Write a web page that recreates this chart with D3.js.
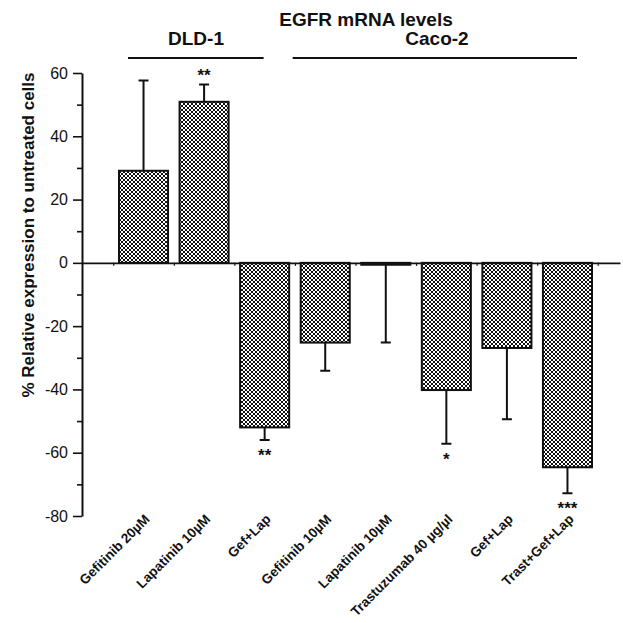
<!DOCTYPE html>
<html>
<head>
<meta charset="utf-8">
<script src="https://cdn.jsdelivr.net/npm/d3@7"></script>
<style>
  body { margin: 0; background: #fff; }
  text { font-family: "Liberation Sans", Arial, sans-serif; fill: #111; }
</style>
</head>
<body>
<svg id="chart" width="623" height="623"></svg>
<script>
// values
const categories = ['Gefitinib 20\u00b5M', 'Lapatinib 10\u00b5M', 'Gef+Lap', 'Gefitinib 10\u00b5M',
  'Lapatinib 10\u00b5M', 'Trastuzumab 40 \u00b5g/\u00b5l', 'Gef+Lap', 'Trast+Gef+Lap']
const values = [29.1, 50.9, -52.0, -25.2, -0.6, -40.2, -26.9, -64.6]
const errors = [28.5, 5.5, 4.0, 8.9, 24.6, 17.0, 22.5, 8.2]
const stars = ['', '**', '**', '', '', '*', '', '***']
const yTicks = [60, 40, 20, 0, -20, -40, -60, -80]
const groups = [
  {name: 'DLD-1', from: 0, to: 1},
  {name: 'Caco-2', from: 3, to: 7}
]

const svg = d3.select('#chart')

// pattern for the bar fill (fine crosshatch)
const defs = svg.append('defs')
const pat = defs.append('pattern').attr('id', 'hatch')
  .attr('patternUnits', 'userSpaceOnUse').attr('width', 4).attr('height', 4)
pat.append('rect').attr('width', 4).attr('height', 4).attr('fill', '#fff')
pat.append('path').attr('d', 'M-1,1 l2,-2 M0,4 l4,-4 M3,5 l2,-2')
  .attr('stroke', '#111').attr('stroke-width', 1)
pat.append('path').attr('d', 'M-1,3 l2,2 M0,0 l4,4 M3,-1 l2,2')
  .attr('stroke', '#111').attr('stroke-width', 1)

const x = d3.scaleBand().domain(d3.range(categories.length)).range([119, 592]).paddingInner(0.19)
const y = d3.scaleLinear().domain([-80, 60]).range([516, 73])

// y axis, major + minor ticks
svg.append('g').attr('transform', 'translate(82,0)')
  .call(d3.axisLeft(y).tickValues(d3.range(-70, 60, 20)).tickSize(5).tickFormat(''))
  .call(g => g.select('.domain').remove())
  .call(g => g.selectAll('line').attr('stroke', '#111').attr('stroke-width', 1.6))
svg.append('g').attr('transform', 'translate(82,0)')
  .call(d3.axisLeft(y).tickValues(yTicks).tickSize(9).tickSizeOuter(0).tickPadding(5)
    .tickFormat(d => String(d)))
  .call(g => g.select('.domain').attr('stroke', '#111').attr('stroke-width', 2))
  .call(g => g.selectAll('line').attr('stroke', '#111').attr('stroke-width', 1.6))
  .call(g => g.selectAll('text').attr('font-size', 16).attr('fill', '#111')
    .style('font-family', '"Liberation Sans", Arial, sans-serif'))

// bars
svg.selectAll('.bar').data(values).enter().append('rect').attr('class', 'bar')
  .attr('x', (d, i) => x(i))
  .attr('width', x.bandwidth())
  .attr('y', d => y(Math.max(0, d)))
  .attr('height', d => Math.abs(y(d) - y(0)))
  .attr('fill', 'url(#hatch)')
  .attr('stroke', '#111').attr('stroke-width', 2)

// zero line with small ticks
svg.append('g').attr('transform', `translate(0,${y(0)})`)
  .call(d3.axisBottom(d3.scaleLinear().domain([0, 1]).range([82, 620]))
    .tickValues(d3.range(categories.length + 1).map(i => (x(0) - x.step() * 0.095 + x.step() * i - 82) / 538))
    .tickSize(3).tickSizeOuter(0).tickFormat(''))
  .call(g => g.select('.domain').attr('stroke', '#111').attr('stroke-width', 1.6))
  .call(g => g.selectAll('line').attr('stroke', '#111').attr('stroke-width', 1.2))

// error bars (one sided, away from zero)
const cx = i => x(i) + x.bandwidth() / 2
const errEnd = (d, i) => d + Math.sign(d || -1) * errors[i]
svg.selectAll('.err').data(values).enter().append('path').attr('class', 'err')
  .attr('d', (d, i) => `M${cx(i)},${y(d)}V${y(errEnd(d, i))}M${cx(i) - 5},${y(errEnd(d, i))}h10`)
  .attr('stroke', '#111').attr('stroke-width', 2).attr('fill', 'none')

// significance stars
svg.selectAll('.star').data(values).enter().append('text').attr('class', 'star')
  .attr('x', (d, i) => cx(i))
  .attr('y', (d, i) => y(errEnd(d, i)) + (d > 0 ? -3 : 21))
  .attr('text-anchor', 'middle').attr('font-size', 17).attr('font-weight', 'bold')
  .text((d, i) => stars[i])

// category labels
svg.selectAll('.cat').data(categories).enter().append('text').attr('class', 'cat')
  .attr('transform', (d, i) => `translate(${cx(i) + 7},${y(-80) + 4}) rotate(-45)`)
  .attr('text-anchor', 'end').attr('font-size', 13.5).attr('font-weight', 'bold')
  .text(d => d)

// group lines + names
const lineEnds = [[x(0) + 9, x(1) + x.bandwidth() + 35], [x(3) - 8, x(7) + x.bandwidth() - 15]]
groups.forEach((gr, k) => {
  svg.append('line').attr('x1', lineEnds[k][0]).attr('x2', lineEnds[k][1]).attr('y1', 58).attr('y2', 58)
    .attr('stroke', '#111').attr('stroke-width', 1.8)
})
svg.append('text').attr('x', 196).attr('y', 45).attr('text-anchor', 'middle')
  .attr('font-size', 19).attr('font-weight', 'bold').text(groups[0].name)
svg.append('text').attr('x', 437).attr('y', 45).attr('text-anchor', 'middle')
  .attr('font-size', 19).attr('font-weight', 'bold').text(groups[1].name)

// title
svg.append('text').attr('x', 366).attr('y', 26).attr('text-anchor', 'middle')
  .attr('font-size', 19).attr('font-weight', 'bold').text('EGFR mRNA levels')

// y label
svg.append('text').attr('transform', 'translate(34,235) rotate(-90)')
  .attr('text-anchor', 'middle').attr('font-size', 17).attr('font-weight', 'bold')
  .text('% Relative expression to untreated cells')
</script>
</body>
</html>
